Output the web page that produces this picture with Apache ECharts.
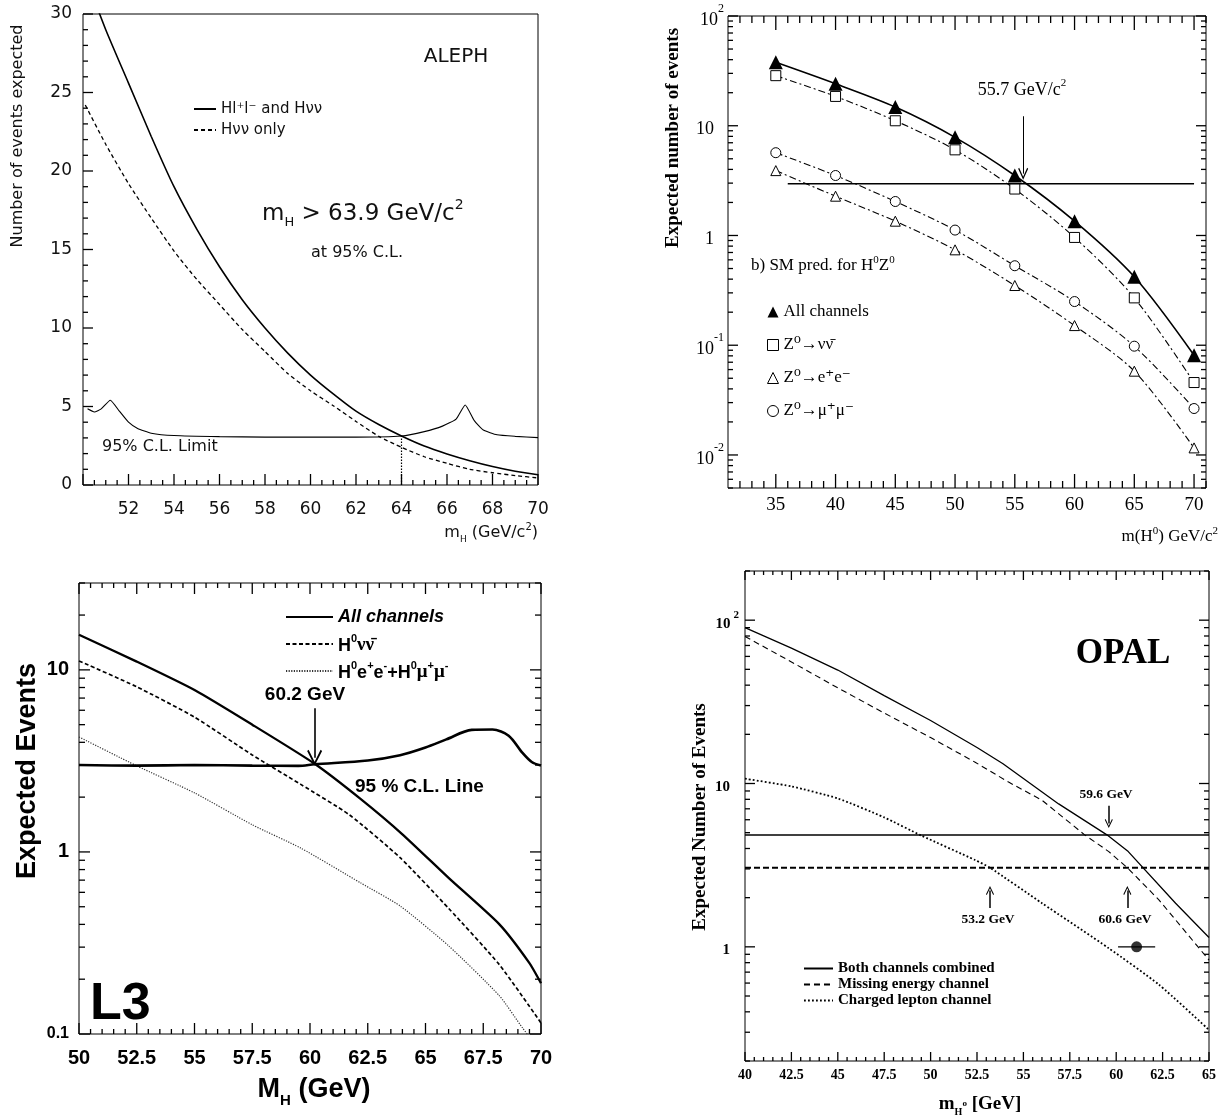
<!DOCTYPE html>
<html>
<head>
<meta charset="utf-8">
<title>Expected number of Higgs events at LEP</title>
<script src="https://cdn.jsdelivr.net/npm/echarts@6.0.0/dist/echarts.min.js"></script>
<style>
html,body{margin:0;padding:0;background:#ffffff;}
#chart{width:1220px;height:1120px;}
</style>
</head>
<body>
<div id="chart"></div>
<script>
// ================= Panel A : ALEPH (linear scale) =================
const alephAllMass = [50, 51, 52, 53, 54, 55, 56, 57, 58, 59, 60, 61, 62, 63, 64, 65, 66, 67, 68, 69, 70];
const alephAll     = [32.8, 29.0, 25.6, 22.2, 19.0, 16.3, 13.9, 11.8, 10.0, 8.4, 7.0, 5.8, 4.7, 3.85, 3.12, 2.48, 1.98, 1.55, 1.18, 0.88, 0.65];
const alephNuMass  = [50.1, 51, 52, 53, 54, 55, 56, 57, 58, 59, 60, 61, 62, 63, 64, 65, 66, 67, 68, 69, 70];
const alephNu      = [24.2, 21.7, 19.2, 17.0, 14.9, 13.1, 11.5, 9.9, 8.5, 7.1, 6.0, 5.05, 4.05, 3.1, 2.4, 1.8, 1.38, 1.0, 0.78, 0.6, 0.45];
const alephLimMass = [50.2, 50.5, 50.8, 51.2, 51.6, 52.0, 52.4, 53, 54, 56, 58, 60, 62, 64, 65, 65.8, 66.4, 66.8, 67.2, 67.6, 68.2, 69, 70];
const alephLim     = [4.85, 4.65, 4.85, 5.4, 4.7, 4.0, 3.6, 3.3, 3.15, 3.08, 3.05, 3.05, 3.05, 3.12, 3.4, 3.75, 4.2, 5.1, 4.1, 3.5, 3.2, 3.1, 3.02];
const alephLimitMass = 64.0, alephLimitValue = 3.12;
const alephXLabels = [52, 54, 56, 58, 60, 62, 64, 66, 68, 70];

// ================= Panel B : SM prediction for H0Z0 (log scale) =================
const smMass  = [35, 40, 45, 50, 55, 60, 65, 70];
const smAll   = [37.8, 24.1, 14.8, 7.84, 3.52, 1.35, 0.42, 0.081];
const smNuNu  = [28.6, 18.5, 11.1, 6.03, 2.65, 0.96, 0.27, 0.0457];
const smEE    = [3.9, 2.28, 1.35, 0.74, 0.35, 0.151, 0.058, 0.0116];
const smMuMu  = [5.68, 3.52, 2.04, 1.12, 0.53, 0.25, 0.098, 0.0265];
const smLimitMass = [36, 70];
const smLimit     = [2.96, 2.96];
const smArrow = {mass: 55.7, from: 12.2, to: 3.66};
const smXLabels = [35, 40, 45, 50, 55, 60, 65, 70];
const smYLabels = [0.01, 0.1, 1, 10, 100];

// ================= Panel C : L3 (log scale) =================
const l3AllMass = [50, 52.5, 55, 57.5, 60.2, 62.2, 64, 66, 68.2, 69.5, 70];
const l3All     = [15.6, 11.1, 7.75, 5.0, 3.05, 1.95, 1.25, 0.72, 0.40, 0.245, 0.19];
const l3NuMass  = [50, 52.5, 55, 57.5, 59.6, 61.7, 63.9, 66, 68.2, 70];
const l3Nu      = [11.2, 8.07, 5.5, 3.41, 2.35, 1.6, 0.93, 0.49, 0.24, 0.115];
const l3LepMass = [50, 52.5, 55, 57.5, 59.6, 62.2, 63.9, 66, 68.2, 69.2, 70];
const l3Lep     = [4.28, 2.97, 2.11, 1.41, 1.05, 0.675, 0.505, 0.305, 0.162, 0.108, 0.08];
const l3ClMass  = [50, 52.5, 55, 57.5, 59.5, 60.2, 62.5, 63.9, 65, 65.9, 67, 67.9, 68.6, 69.2, 69.6, 70];
const l3Cl      = [3.0, 2.98, 3.0, 2.98, 2.97, 3.03, 3.18, 3.4, 3.75, 4.15, 4.68, 4.7, 4.35, 3.5, 3.12, 2.98];
const l3Arrow = {mass: 60.2, from: 6.15, to: 3.29};
const l3XLabels = [50, 52.5, 55, 57.5, 60, 62.5, 65, 67.5, 70];
const l3YLabels = [0.1, 1, 10];

// ================= Panel D : OPAL (log scale) =================
const opalBothMass = [40, 42.5, 45, 47.5, 50, 52.5, 53.9, 56.9, 59.5, 60.65, 63.2, 65];
const opalBoth     = [90, 67.5, 49.5, 34.5, 24.3, 16.6, 13.2, 7.5, 4.85, 3.83, 1.85, 1.14];
const opalMissMass = [40, 42.5, 45, 47.5, 50, 52.4, 54.2, 56, 58.3, 59.6, 60.6, 62.3, 65];
const opalMiss     = [79.5, 55.5, 38.5, 27, 19.1, 13.5, 10.2, 7.9, 4.85, 3.83, 3.05, 1.94, 0.83];
const opalLepMass  = [40, 42.5, 45, 47.5, 49.5, 52.4, 53.2, 56, 59.6, 62.3, 65];
const opalLep      = [10.7, 9.6, 8.1, 6.2, 4.8, 3.4, 3.05, 1.85, 0.98, 0.587, 0.31];
const opalLimitMass = [40, 65];
const opalLimitBoth = [4.83, 4.83];
const opalLimitMiss = [3.05, 3.05];
const opalObsMass = 61.1, opalObsErr = 1.0, opalObsValue = 1;
const opalArrowDown = {mass: 59.6, from: 7.3, to: 5.69};
const opalArrowsUp  = [{mass: 53.2, from: 1.73, to: 2.21}, {mass: 60.6, from: 1.73, to: 2.21}];
const opalXLabels = [40, 42.5, 45, 47.5, 50, 52.5, 55, 57.5, 60, 62.5, 65];
const opalYLabels = [1, 10, 100];

// ---------------- helpers ----------------
const zip = (xs, ys) => xs.map((x, i) => [x, ys[i]]);
const BLK = '#000';
const GOTH = "'DejaVu Sans', sans-serif";
const SERIF = "'Liberation Serif', 'DejaVu Serif', serif";
const SANS = "'Liberation Sans', Arial, sans-serif";
const ARROW = 'path://M5,0 L10,10 L9,10.9 L5,2.7 L1,10.9 L0,10 Z';

function range(a, b, step) { const o = []; for (let v = a; v <= b + 1e-9; v += step) o.push(+v.toFixed(4)); return o; }
function without(all, major) { return all.filter(v => !major.some(m => Math.abs(m - v) < 1e-6)); }
function logMinor(lo, hi) {
  const o = [];
  for (let e = -3; e <= 3; e++) for (let k = 2; k <= 9; k++) {
    const v = +(k * Math.pow(10, e)).toPrecision(3);
    if (v >= lo * 0.999 && v <= hi * 1.001) o.push(v);
  }
  return o;
}

// tick positions
const alephXMajor = range(50, 70, 2), alephXMinor = without(range(50, 70, 0.5), alephXMajor);
const alephYMajor = range(0, 30, 5), alephYMinor = without(range(0, 30, 1), alephYMajor);
const smXMinor = without(range(32, 71, 1), smXLabels);
const smYMinor = logMinor(0.005, 100);
const l3XMinor = without(range(50, 70, 0.5), l3XLabels);
const l3YMinor = logMinor(0.1, 30);
const opalXMinor = without(range(40, 65, 0.5), opalXLabels);
const opalYMinor = logMinor(0.2, 200);

function ax(type, grid, pos, min, max, o) {
  return Object.assign({
    type: type, gridIndex: grid, position: pos, min: min, max: max,
    axisLine: {show: false, onZero: false},
    axisTick: {show: false}, minorTick: {show: false},
    splitLine: {show: false}, minorSplitLine: {show: false},
    axisLabel: {show: false}, axisPointer: {show: false}
  }, o);
}
function fmtSM(v) {
  const e = Math.round(Math.log10(v));
  if (e === 0) return '{b|1}{sp| }';
  if (e === 1) return '{b|10}{sp| }';
  return '{b|10}{s|' + (e < 0 ? '-' + (-e) : e) + '}';
}
function fmtL3(v) {
  const e = Math.round(Math.log10(v));
  if (e === -1) return '{s|0.1}';
  return '{b|' + (e === 0 ? '1' : '10') + '}';
}
function fmtOP(v) {
  const e = Math.round(Math.log10(v));
  if (e === 0) return '{b|1}{sp| }';
  if (e === 1) return '{b|10}{sp| }';
  return '{b|10}{s|2}';
}

// ---------------- axes (one x / one y per panel) ----------------
const xAxes = [
  ax('value', 0, 'bottom', 50, 70, {interval: 2,
    axisLabel: {show: true, customValues: alephXLabels, margin: 16, fontFamily: GOTH, fontSize: 17, color: '#111'}}),
  ax('value', 1, 'bottom', 31, 71, {
    axisLabel: {show: true, customValues: smXLabels, margin: 8, fontFamily: SERIF, fontSize: 19, color: BLK}}),
  ax('value', 2, 'bottom', 50, 70, {interval: 2.5,
    axisLabel: {show: true, customValues: l3XLabels, margin: 14, fontFamily: SANS, fontWeight: 'bold', fontSize: 20, color: BLK}}),
  ax('value', 3, 'bottom', 40, 65, {interval: 2.5,
    axisLabel: {show: true, customValues: opalXLabels, margin: 7, fontFamily: SERIF, fontWeight: 'bold', fontSize: 14, color: BLK}})
];
const yAxes = [
  ax('value', 0, 'left', 0, 30, {interval: 5,
    axisLabel: {show: true, customValues: alephYMajor, margin: 11, fontFamily: GOTH, fontSize: 17, color: '#111'}}),
  ax('log', 1, 'left', 0.005, 100, {
    axisLabel: {show: true, customValues: smYLabels, formatter: fmtSM, margin: 4,
      rich: {b: {fontFamily: SERIF, fontSize: 18, color: BLK, lineHeight: 26, verticalAlign: 'bottom'},
             s: {fontFamily: SERIF, fontSize: 12, color: BLK, lineHeight: 12, verticalAlign: 'top'},
             sp: {fontSize: 12, width: 10}}}}),
  ax('log', 2, 'left', 0.1, 30, {
    axisLabel: {show: true, customValues: l3YLabels, formatter: fmtL3, margin: 10,
      rich: {b: {fontFamily: SANS, fontWeight: 'bold', fontSize: 20, color: BLK},
             s: {fontFamily: SANS, fontWeight: 'bold', fontSize: 16, color: BLK}}}}),
  ax('log', 3, 'left', 0.2, 200, {
    axisLabel: {show: true, customValues: opalYLabels, formatter: fmtOP, margin: 6,
      rich: {b: {fontFamily: SERIF, fontWeight: 'bold', fontSize: 15, color: BLK, lineHeight: 22, verticalAlign: 'bottom'},
             s: {fontFamily: SERIF, fontWeight: 'bold', fontSize: 11, color: BLK, lineHeight: 11, verticalAlign: 'top', padding: [0, 0, 0, 3]},
             sp: {fontSize: 11, width: 9}}}})
];

// ---------------- tick marks: thin rect symbols placed on the frame through each panel's scales ----------------
const panelExtent = [
  {x: [50, 70], y: [0, 30]},
  {x: [31, 71], y: [0.005, 100]},
  {x: [50, 70], y: [0.1, 30]},
  {x: [40, 65], y: [0.2, 200]}
];
function tickMarks(p, specs) {
  const ext = panelExtent[p];
  return specs.map(s => {
    let data, size, offset;
    if (s.axis === 'x') {
      const yv = s.side === 'bottom' ? ext.y[0] : ext.y[1];
      data = s.values.map(v => [v, yv]);
      size = [1.3, s.len];
      offset = [0, s.side === 'bottom' ? -s.len / 2 : s.len / 2];
    } else {
      const xv = s.side === 'left' ? ext.x[0] : ext.x[1];
      data = s.values.map(v => [xv, v]);
      size = [s.len, 1.3];
      offset = [s.side === 'left' ? s.len / 2 : -s.len / 2, 0];
    }
    return {type: 'scatter', xAxisIndex: p, yAxisIndex: p, data: data, symbol: 'rect',
      symbolSize: size, symbolOffset: offset, itemStyle: {color: BLK, opacity: 1}, silent: true,
      clip: false, z: 4, animation: false, emphasis: {disabled: true}};
  });
}
function both(axis, sides, values, len) { return sides.map(side => ({axis: axis, side: side, values: values, len: len})); }

// ---------------- data series ----------------
function arrowLine(mass, from, to, width, size) {
  return {silent: true, animation: false, symbol: ['none', ARROW], symbolSize: size,
    lineStyle: {color: BLK, width: width, type: 'solid'}, label: {show: false}, emphasis: {disabled: true},
    data: [[{coord: [mass, from]}, {coord: [mass, to]}]]};
}
const hollow = () => ({color: '#fff', borderColor: BLK, borderWidth: 1});
const DASHDOT = () => [7, 3, 2, 3];

const series = [
  // ALEPH
  {name: 'aleph_all', type: 'line', xAxisIndex: 0, yAxisIndex: 0, data: zip(alephAllMass, alephAll),
   symbol: 'none', smooth: 0.2, lineStyle: {color: BLK, width: 1.6}, itemStyle: {color: BLK}},
  {name: 'aleph_nu', type: 'line', xAxisIndex: 0, yAxisIndex: 0, data: zip(alephNuMass, alephNu),
   symbol: 'none', smooth: 0.2, lineStyle: {color: BLK, width: 1.3, type: [4, 3]}, itemStyle: {color: BLK}},
  {name: 'aleph_lim', type: 'line', xAxisIndex: 0, yAxisIndex: 0, data: zip(alephLimMass, alephLim),
   symbol: 'none', smooth: 0.15, lineStyle: {color: BLK, width: 1.1}, itemStyle: {color: BLK},
   markLine: {silent: true, animation: false, symbol: ['none', 'none'], lineStyle: {color: BLK, width: 1.2, type: [1.5, 1.5]},
     label: {show: false}, data: [[{coord: [alephLimitMass, 0]}, {coord: [alephLimitMass, alephLimitValue]}]]}},
  // SM prediction
  {name: 'sm_all', type: 'line', xAxisIndex: 1, yAxisIndex: 1, data: zip(smMass, smAll),
   symbol: 'triangle', symbolSize: 14, smooth: 0.3, lineStyle: {color: BLK, width: 1.6}, itemStyle: {color: BLK}, z: 5},
  {name: 'sm_nn', type: 'line', xAxisIndex: 1, yAxisIndex: 1, data: zip(smMass, smNuNu),
   symbol: 'rect', symbolSize: 10, smooth: 0.3, lineStyle: {color: BLK, width: 1.1, type: DASHDOT()}, itemStyle: hollow()},
  {name: 'sm_ee', type: 'line', xAxisIndex: 1, yAxisIndex: 1, data: zip(smMass, smEE),
   symbol: 'triangle', symbolSize: 10, smooth: 0.3, lineStyle: {color: BLK, width: 1.1, type: DASHDOT()}, itemStyle: hollow()},
  {name: 'sm_mm', type: 'line', xAxisIndex: 1, yAxisIndex: 1, data: zip(smMass, smMuMu),
   symbol: 'circle', symbolSize: 10, smooth: 0.3, lineStyle: {color: BLK, width: 1.1, type: DASHDOT()}, itemStyle: hollow()},
  {name: 'sm_limit', type: 'line', xAxisIndex: 1, yAxisIndex: 1, data: zip(smLimitMass, smLimit),
   symbol: 'none', lineStyle: {color: BLK, width: 1.4}, itemStyle: {color: BLK},
   markLine: arrowLine(smArrow.mass, smArrow.from, smArrow.to, 1, [10, 12])},
  // L3
  {name: 'l3_all', type: 'line', xAxisIndex: 2, yAxisIndex: 2, data: zip(l3AllMass, l3All),
   symbol: 'none', smooth: 0.2, lineStyle: {color: BLK, width: 2.3}, itemStyle: {color: BLK}},
  {name: 'l3_nn', type: 'line', xAxisIndex: 2, yAxisIndex: 2, data: zip(l3NuMass, l3Nu),
   symbol: 'none', smooth: 0.2, lineStyle: {color: BLK, width: 1.7, type: [4, 2.5]}, itemStyle: {color: BLK}},
  {name: 'l3_ll', type: 'line', xAxisIndex: 2, yAxisIndex: 2, data: zip(l3LepMass, l3Lep),
   symbol: 'none', smooth: 0.2, lineStyle: {color: '#333', width: 1.2, type: [1.2, 1.4]}, itemStyle: {color: '#333'}},
  {name: 'l3_cl', type: 'line', xAxisIndex: 2, yAxisIndex: 2, data: zip(l3ClMass, l3Cl),
   symbol: 'none', smooth: 0.3, lineStyle: {color: BLK, width: 2.6}, itemStyle: {color: BLK},
   markLine: arrowLine(l3Arrow.mass, l3Arrow.from, l3Arrow.to, 1.6, [15, 16])},
  // OPAL
  {name: 'op_both', type: 'line', xAxisIndex: 3, yAxisIndex: 3, data: zip(opalBothMass, opalBoth),
   symbol: 'none', lineStyle: {color: BLK, width: 1.3}, itemStyle: {color: BLK}},
  {name: 'op_miss', type: 'line', xAxisIndex: 3, yAxisIndex: 3, data: zip(opalMissMass, opalMiss),
   symbol: 'none', lineStyle: {color: BLK, width: 1.1, type: [6, 4]}, itemStyle: {color: BLK}},
  {name: 'op_lep', type: 'line', xAxisIndex: 3, yAxisIndex: 3, data: zip(opalLepMass, opalLep),
   symbol: 'none', smooth: 0.2, lineStyle: {color: BLK, width: 1.8, type: [1.8, 2.2]}, itemStyle: {color: BLK}},
  {name: 'op_limit_both', type: 'line', xAxisIndex: 3, yAxisIndex: 3, data: zip(opalLimitMass, opalLimitBoth),
   symbol: 'none', lineStyle: {color: BLK, width: 1.5}, itemStyle: {color: BLK},
   markLine: arrowLine(opalArrowDown.mass, opalArrowDown.from, opalArrowDown.to, 1.5, [8, 9])},
  {name: 'op_limit_miss', type: 'line', xAxisIndex: 3, yAxisIndex: 3, data: zip(opalLimitMass, opalLimitMiss),
   symbol: 'none', lineStyle: {color: BLK, width: 2.2, type: [6, 3]}, itemStyle: {color: BLK},
   markLine: {silent: true, animation: false, symbol: ['none', ARROW], symbolSize: [8, 9],
     lineStyle: {color: BLK, width: 1.5, type: 'solid'}, label: {show: false},
     data: opalArrowsUp.map(a => [{coord: [a.mass, a.from]}, {coord: [a.mass, a.to]}])}},
  {name: 'op_err', type: 'line', xAxisIndex: 3, yAxisIndex: 3,
   data: [[opalObsMass - opalObsErr, opalObsValue], [opalObsMass + opalObsErr, opalObsValue]],
   symbol: 'none', lineStyle: {color: BLK, width: 1.3}, itemStyle: {color: BLK}},
  {name: 'op_obs', type: 'scatter', xAxisIndex: 3, yAxisIndex: 3, data: [[opalObsMass, opalObsValue]],
   symbol: 'circle', symbolSize: 11, itemStyle: {color: BLK}}
].concat(
  tickMarks(0, [
    {axis: 'x', side: 'bottom', values: alephXMajor, len: 11}, {axis: 'x', side: 'bottom', values: alephXMinor, len: 5},
    {axis: 'y', side: 'left', values: alephYMajor, len: 10}, {axis: 'y', side: 'left', values: alephYMinor, len: 5}]),
  tickMarks(1, [].concat(
    both('x', ['bottom', 'top'], smXLabels, 14), both('x', ['bottom', 'top'], smXMinor, 7),
    both('y', ['left', 'right'], smYLabels, 10), both('y', ['left', 'right'], smYMinor, 5))),
  tickMarks(2, [].concat(
    both('x', ['bottom', 'top'], l3XLabels, 11), both('x', ['bottom', 'top'], l3XMinor, 5),
    both('y', ['left', 'right'], l3YLabels, 11), both('y', ['left', 'right'], l3YMinor, 6))),
  tickMarks(3, [].concat(
    both('x', ['bottom', 'top'], opalXLabels, 9), both('x', ['bottom', 'top'], opalXMinor, 4),
    both('y', ['left', 'right'], opalYLabels, 10), both('y', ['left', 'right'], opalYMinor, 5)))
);

// ---------------- legends ----------------
const legendText = {
  aleph_all: 'Hl⁺l⁻ and Hνν', aleph_nu: 'Hνν only',
  sm_all: 'All channels', sm_nn: 'Z⁰→νν̄', sm_ee: 'Z⁰→e⁺e⁻', sm_mm: 'Z⁰→μ⁺μ⁻',
  l3_all: '{i|All channels}', l3_nn: '{b|H}{s|0}{g|νν̄}',
  l3_ll: '{b|H}{s|0}{b|e}{s|+}{b|e}{s|-}{b|+H}{s|0}{g|μ}{s|+}{g|μ}{s|-}',
  op_both: 'Both channels combined', op_miss: 'Missing energy channel', op_lep: 'Charged lepton channel'
};
const legFmt = n => legendText[n] || n;
const legends = [
  {left: 193, top: 101, orient: 'vertical', padding: 0, itemWidth: 22, itemHeight: 10, itemGap: 5, selectedMode: false,
   itemStyle: {opacity: 0}, data: ['aleph_all', 'aleph_nu'], formatter: legFmt,
   textStyle: {fontFamily: GOTH, fontSize: 15, color: '#111', lineHeight: 16}},
  {left: 767, top: 302, orient: 'vertical', padding: 0, itemWidth: 11, itemHeight: 11, itemGap: 13, selectedMode: false,
   data: [{name: 'sm_all', icon: 'triangle', itemStyle: {color: BLK}},
          {name: 'sm_nn', icon: 'rect', itemStyle: hollow()},
          {name: 'sm_ee', icon: 'triangle', itemStyle: hollow()},
          {name: 'sm_mm', icon: 'circle', itemStyle: hollow()}],
   formatter: legFmt, textStyle: {fontFamily: SERIF, fontSize: 17, color: BLK, lineHeight: 20}},
  {left: 285, top: 606, orient: 'vertical', padding: 0, itemWidth: 47, itemHeight: 10, itemGap: 5, selectedMode: false,
   itemStyle: {opacity: 0}, data: ['l3_all', 'l3_nn', 'l3_ll'], formatter: legFmt,
   textStyle: {fontFamily: SANS, fontWeight: 'bold', fontSize: 18, color: BLK, lineHeight: 22,
     rich: {i: {fontFamily: SANS, fontWeight: 'bold', fontStyle: 'italic', fontSize: 18, color: BLK, lineHeight: 22},
            b: {fontFamily: SANS, fontWeight: 'bold', fontSize: 18, color: BLK, lineHeight: 22, verticalAlign: 'bottom'},
            s: {fontFamily: SANS, fontWeight: 'bold', fontSize: 11, color: BLK, lineHeight: 11, verticalAlign: 'top'},
            g: {fontFamily: SERIF, fontSize: 19, color: BLK, lineHeight: 22, verticalAlign: 'bottom'}}}},
  {left: 803, top: 961, orient: 'vertical', padding: 0, itemWidth: 29, itemHeight: 8, itemGap: 1, selectedMode: false,
   itemStyle: {opacity: 0}, data: ['op_both', 'op_miss', 'op_lep'], formatter: legFmt,
   textStyle: {fontFamily: SERIF, fontWeight: 'bold', fontSize: 15, color: BLK, lineHeight: 15}}
];

// ---------------- annotation texts ----------------
function txt(x, y, text, st, extra) {
  return Object.assign({type: 'text', x: x, y: y, silent: true, z: 10,
    style: Object.assign({text: text, fill: BLK, align: 'left', verticalAlign: 'middle'}, st)}, extra || {});
}
function richSet(fam, size, weight, color) {
  const w = weight || 'normal', c = color || BLK;
  return {
    a: {fontFamily: fam, fontSize: size, fontWeight: w, fill: c, lineHeight: Math.round(size * 1.35), verticalAlign: 'middle'},
    sub: {fontFamily: fam, fontSize: Math.round(size * 0.55), fontWeight: w, fill: c, lineHeight: Math.round(size * 0.55), verticalAlign: 'bottom'},
    sup: {fontFamily: fam, fontSize: Math.round(size * 0.62), fontWeight: w, fill: c, lineHeight: Math.round(size * 0.62), verticalAlign: 'top'},
    o: {fontFamily: fam, fontSize: Math.round(size * 0.45), fontWeight: w, fill: c, lineHeight: Math.round(size * 0.45), verticalAlign: 'middle'}
  };
}
const graphics = [
  // ALEPH
  txt(456, 57, 'ALEPH', {fontFamily: GOTH, fontSize: 20, fill: '#111', align: 'center'}),
  txt(262, 214, '{a|m}{sub|H}{a| > 63.9 GeV/c}{sup|2}', {rich: richSet(GOTH, 23, 'normal', '#111')}),
  txt(357, 253, 'at 95% C.L.', {fontFamily: GOTH, fontSize: 16, fill: '#111', align: 'center'}),
  txt(102, 447, '95% C.L. Limit', {fontFamily: GOTH, fontSize: 16, fill: '#111'}),
  txt(18, 136, 'Number of events expected', {fontFamily: GOTH, fontSize: 16, fill: '#111', align: 'center'}, {rotation: Math.PI / 2}),
  txt(538, 533, '{a|m}{sub|H}{a| (GeV/c}{sup|2}{a|)}', {rich: richSet(GOTH, 16, 'normal', '#111'), align: 'right'}),
  // SM prediction
  txt(1022, 90, '{a|55.7 GeV/c}{sup|2}', {rich: richSet(SERIF, 18), align: 'center'}),
  txt(751, 266, '{a|b) SM pred. for H}{sup|0}{a|Z}{sup|0}', {rich: richSet(SERIF, 17)}),
  txt(673, 138, 'Expected number of events', {fontFamily: SERIF, fontWeight: 'bold', fontSize: 19, align: 'center'}, {rotation: Math.PI / 2}),
  txt(1218, 537, '{a|m(H}{sup|0}{a|) GeV/c}{sup|2}', {rich: richSet(SERIF, 17), align: 'right'}),
  // L3
  txt(305, 695, '60.2 GeV', {fontFamily: SANS, fontWeight: 'bold', fontSize: 19, align: 'center'}),
  txt(355, 787, '95 % C.L. Line', {fontFamily: SANS, fontWeight: 'bold', fontSize: 19}),
  txt(90, 1005, 'L3', {fontFamily: SANS, fontWeight: 'bold', fontSize: 52}),
  txt(28, 771, 'Expected Events', {fontFamily: SANS, fontWeight: 'bold', fontSize: 27, align: 'center'}, {rotation: Math.PI / 2}),
  txt(314, 1090, '{a|M}{sub|H}{a| (GeV)}', {rich: richSet(SANS, 27, 'bold'), align: 'center'}),
  // OPAL
  txt(1123, 654, 'OPAL', {fontFamily: SERIF, fontWeight: 'bold', fontSize: 35, align: 'center'}),
  txt(1106, 795, '59.6 GeV', {fontFamily: SERIF, fontWeight: 'bold', fontSize: 13.5, align: 'center'}),
  txt(988, 920, '53.2 GeV', {fontFamily: SERIF, fontWeight: 'bold', fontSize: 13.5, align: 'center'}),
  txt(1125, 920, '60.6 GeV', {fontFamily: SERIF, fontWeight: 'bold', fontSize: 13.5, align: 'center'}),
  txt(700, 817, 'Expected Number of Events', {fontFamily: SERIF, fontWeight: 'bold', fontSize: 19, align: 'center'}, {rotation: Math.PI / 2}),
  txt(980, 1104, '{a|m}{sub|H}{o|o}{a| [GeV]}', {rich: richSet(SERIF, 19, 'bold'), align: 'center'})
];

const gridBase = {show: true, borderColor: BLK, borderWidth: 1, backgroundColor: 'transparent', containLabel: false, outerBoundsMode: 'none'};
const option = {
  backgroundColor: '#ffffff',
  animation: false,
  textStyle: {fontFamily: SERIF, color: BLK},
  grid: [
    Object.assign({left: 83, top: 14, width: 455, height: 471}, gridBase),
    Object.assign({left: 728, top: 16, width: 478, height: 472}, gridBase),
    Object.assign({left: 79, top: 583, width: 462, height: 451}, gridBase),
    Object.assign({left: 745, top: 571, width: 464, height: 490}, gridBase)
  ],
  xAxis: xAxes,
  yAxis: yAxes,
  legend: legends,
  series: series,
  graphic: graphics
};
const chart = echarts.init(document.getElementById('chart'), null, {renderer: 'canvas'});
chart.setOption(option);
</script>
</body>
</html>
